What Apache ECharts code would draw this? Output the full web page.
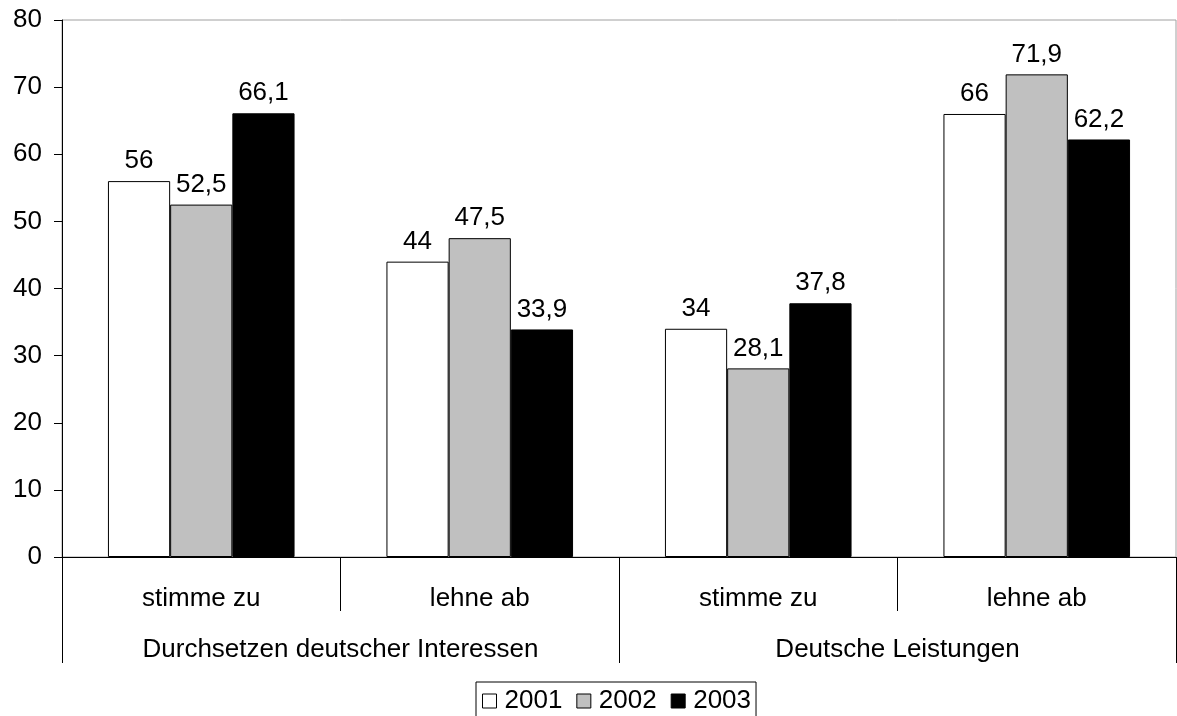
<!DOCTYPE html>
<html>
<head>
<meta charset="utf-8">
<script src="https://cdn.jsdelivr.net/npm/echarts@6/dist/echarts.min.js"></script>
<style>
  html, body { margin: 0; padding: 0; background: #fff; }
  #chart { width: 1177px; height: 716px; }
</style>
</head>
<body>
<div id="chart"></div>
<script>
// Answer categories (inner axis row) and topic groups (outer axis row)
const answerLabels = ['stimme zu', 'lehne ab', 'stimme zu', 'lehne ab'];
const topicLabels = ['Durchsetzen deutscher Interessen', 'Deutsche Leistungen'];

// Survey years and percentages per answer category
const years = ['2001', '2002', '2003'];
const values2001 = [56, 44, 34, 66];
const values2002 = [52.5, 47.5, 28.1, 71.9];
const values2003 = [66.1, 33.9, 37.8, 62.2];

// Y axis range
const yMin = 0, yMax = 80, yStep = 10;

const FONT = "'Liberation Sans', Arial, sans-serif";
const fills = ['#ffffff', '#c0c0c0', '#000000'];
const seriesValues = [values2001, values2002, values2003];

const chart = echarts.init(document.getElementById('chart'), null, { renderer: 'canvas' });

const labelFmt = p => String(p.value).replace('.', ',');

chart.setOption({
  animation: false,
  textStyle: { fontFamily: FONT, color: '#000' },
  grid: {
    left: 62, right: 1, top: 20, bottom: 159,
    show: true, borderColor: '#a0a0a0', borderWidth: 1,
    backgroundColor: 'transparent'
  },
  legend: {
    data: years,
    top: 682,
    left: 476,
    orient: 'horizontal',
    icon: 'rect',
    itemWidth: 14,
    itemHeight: 14,
    itemGap: 14,
    selectedMode: false,
    borderColor: '#000',
    borderWidth: 1,
    padding: [6, 5, 6, 6],
    itemStyle: { borderColor: '#000', borderWidth: 1 },
    textStyle: { fontFamily: FONT, fontSize: 26, color: '#000', padding: [0, 0, 0, 3] }
  },
  xAxis: [
    {
      type: 'category',
      data: answerLabels,
      position: 'bottom',
      axisLine: { show: true, lineStyle: { color: '#000', width: 1 } },
      axisTick: { show: true, interval: 0, length: 54, lineStyle: { color: '#000', width: 1 } },
      axisLabel: { interval: 0, margin: 29, fontFamily: FONT, fontSize: 26, color: '#000' },
      splitLine: { show: false }
    },
    {
      type: 'category',
      data: topicLabels,
      position: 'bottom',
      axisLine: { show: false },
      axisTick: { show: true, interval: 0, length: 106, lineStyle: { color: '#000', width: 1 } },
      axisLabel: { interval: 0, margin: 80, fontFamily: FONT, fontSize: 26, color: '#000' },
      splitLine: { show: false }
    }
  ],
  yAxis: {
    type: 'value',
    min: yMin, max: yMax, interval: yStep,
    axisLine: { show: true, lineStyle: { color: '#000', width: 1 } },
    axisTick: { show: true, length: 8, inside: false, lineStyle: { color: '#000', width: 1 } },
    axisLabel: { margin: 20, fontFamily: FONT, fontSize: 26, color: '#000' },
    splitLine: { show: false }
  },
  series: years.map((y, i) => ({
    name: y,
    type: 'bar',
    xAxisIndex: 0,
    data: seriesValues[i],
    barGap: '0%',
    barCategoryGap: '33%',
    itemStyle: { color: fills[i], borderColor: '#000', borderWidth: 1 },
    label: {
      show: true,
      position: 'top',
      distance: 7,
      formatter: labelFmt,
      fontFamily: FONT,
      fontSize: 26,
      color: '#000'
    }
  }))
});
</script>
</body>
</html>
